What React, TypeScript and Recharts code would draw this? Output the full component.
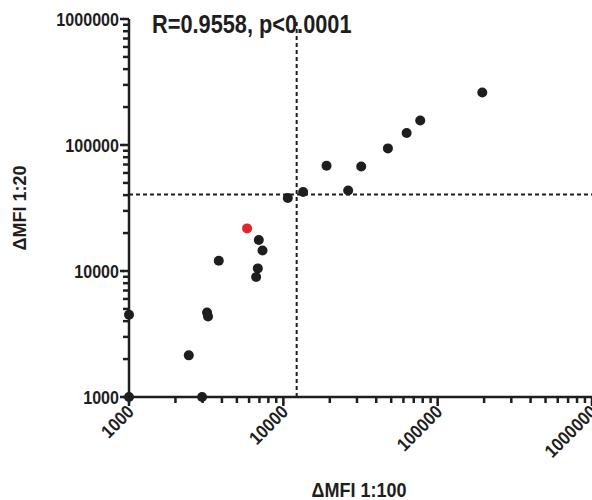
import React from 'react';
import { ScatterChart, Scatter, XAxis, YAxis, ReferenceLine } from 'recharts';

// ΔMFI at 1:100 dilution (x) vs 1:20 dilution (y)
const dmfi100 = [1000, 1000, 2440, 2975, 3205, 3252, 3817, 6935, 7330, 6835, 6665, 10690, 13440, 19050, 26310, 31970, 47600, 62950, 77100, 194600];
const dmfi20 = [4500, 1000, 2140, 1000, 4690, 4360, 12070, 17620, 14560, 10490, 8960, 37950, 42360, 68500, 43600, 67600, 94000, 124500, 156700, 261400];

// highlighted sample (red)
const highlight100 = [5823];
const highlight20 = [21780];

// cutoffs (dashed lines)
const cutoff100 = 12200;
const cutoff20 = 40500;

const majorTicks = [1000, 10000, 100000, 1000000];
const titleText = 'R=0.9558, p<0.0001';
const xLabel = 'ΔMFI 1:100';
const yLabel = 'ΔMFI 1:20';

const allTicks: number[] = [];
majorTicks.forEach((d, i) => {
  allTicks.push(d);
  if (i < majorTicks.length - 1) {
    for (let m = 2; m <= 9; m++) allTicks.push(d * m);
  }
});

const points = dmfi100.map((x, i) => ({ x, y: dmfi20[i] }));
const redPoints = highlight100.map((x, i) => ({ x, y: highlight20[i] }));

const FONT = '"Liberation Sans", Arial, sans-serif';
const INK = '#1e1e1e';
const MINOR = 6;
const MARGIN = 2; // recharts default tickMargin

// tick x/y arrive MARGIN past the end of the (minor-length) native tick line
function YTick(props: any) {
  const { x, y, payload } = props;
  const major = majorTicks.includes(payload.value);
  if (!major) return <g />;
  const ex = x + MARGIN;
  return (
    <g>
      <line x1={ex - 3} x2={ex + 1} y1={y} y2={y} stroke={INK} strokeWidth={2.5} />
      <text
        transform={`translate(${ex - 4}, ${y}) scale(0.87, 1)`}
        dy="0.36em"
        textAnchor="end"
        fontFamily={FONT}
        fontWeight="bold"
        fontSize={18.5}
        fill={INK}
      >
        {payload.value}
      </text>
    </g>
  );
}

function XTick(props: any) {
  const { x, y, payload } = props;
  const major = majorTicks.includes(payload.value);
  if (!major) return <g />;
  const ey = y - MARGIN;
  const tx = x + 6;
  const ty = ey + 10;
  return (
    <g>
      <line x1={x} x2={x} y1={ey - 1} y2={ey + 3} stroke={INK} strokeWidth={2.5} />
      <text
        transform={`translate(${tx}, ${ty}) rotate(-45) scale(0.9, 1)`}
        textAnchor="end"
        fontFamily={FONT}
        fontWeight="bold"
        fontSize={18.5}
        fill={INK}
      >
        {payload.value}
      </text>
    </g>
  );
}

export default function App() {
  return (
    <div style={{ position: 'absolute', left: 0, top: 0, width: 592, height: 500, background: '#fff' }}>
      <ScatterChart width={592} height={500} margin={{ top: 19, right: 0, bottom: 0, left: 0 }}>
        <XAxis
          type="number"
          dataKey="x"
          scale="log"
          domain={[1000, 1000000]}
          ticks={allTicks}
          interval={0}
          height={103}
          tickSize={MINOR}
          tick={<XTick />}
          axisLine={{ stroke: INK, strokeWidth: 2.5 }}
          tickLine={{ stroke: INK, strokeWidth: 2.5 }}
        />
        <YAxis
          type="number"
          dataKey="y"
          scale="log"
          domain={[1000, 1000000]}
          ticks={allTicks}
          interval={0}
          width={129}
          tickSize={MINOR}
          tick={<YTick />}
          axisLine={{ stroke: INK, strokeWidth: 2.5 }}
          tickLine={{ stroke: INK, strokeWidth: 2.5 }}
        />
        <ReferenceLine x={cutoff100} stroke={INK} strokeWidth={2} strokeDasharray="4 3" />
        <ReferenceLine y={cutoff20} stroke={INK} strokeWidth={2} strokeDasharray="4 3" />
        <Scatter data={points} fill={INK} shape={(p: any) => <circle cx={p.cx} cy={p.cy} r={5} fill={INK} />} isAnimationActive={false} />
        <Scatter data={redPoints} fill="#e0252b" shape={(p: any) => <circle cx={p.cx} cy={p.cy} r={5} fill="#e0252b" />} isAnimationActive={false} />
      </ScatterChart>
      <div
        style={{
          position: 'absolute',
          left: 152,
          top: 9,
          fontFamily: FONT,
          fontWeight: 'bold',
          fontSize: 25,
          color: INK,
          lineHeight: '30px',
          whiteSpace: 'nowrap',
          transform: 'scaleX(0.87)',
          transformOrigin: 'left top',
        }}
      >
        {titleText}
      </div>
      <div
        style={{
          position: 'absolute',
          left: 359,
          top: 479,
          fontFamily: FONT,
          fontWeight: 'bold',
          fontSize: 20,
          color: INK,
          lineHeight: '22px',
          whiteSpace: 'nowrap',
          transform: 'translateX(-50%) scaleX(0.9)',
        }}
      >
        {xLabel}
      </div>
      <div
        style={{
          position: 'absolute',
          left: 20,
          top: 208,
          fontFamily: FONT,
          fontWeight: 'bold',
          fontSize: 18,
          color: INK,
          lineHeight: '20px',
          whiteSpace: 'nowrap',
          transform: 'translate(-50%, -50%) rotate(-90deg)',
        }}
      >
        {yLabel}
      </div>
    </div>
  );
}
